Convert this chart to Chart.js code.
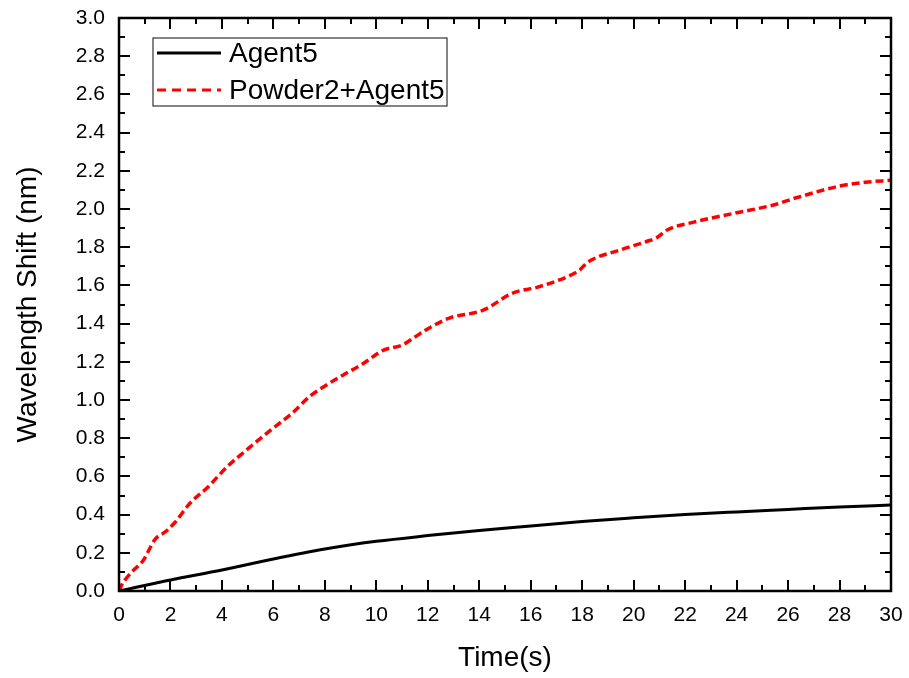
<!DOCTYPE html>
<html>
<head>
<meta charset="utf-8">
<script src="https://cdn.jsdelivr.net/npm/chart.js@4.4.0/dist/chart.umd.min.js"></script>
<style>
  html, body { margin: 0; padding: 0; background: #fff; }
  #wrap { width: 909px; height: 678px; }
</style>
</head>
<body>
<div id="wrap"><canvas id="shift-chart" width="909" height="678"></canvas></div>
<script>
// series
const seriesNames = ['Agent5', 'Powder2+Agent5'];

const agentTime = [0, 2, 4, 6, 8, 10, 12, 14, 16, 18, 20, 22, 24, 26, 28, 30];
const agentShift = [0, 0.058, 0.11, 0.168, 0.22, 0.26, 0.29, 0.317, 0.34, 0.364, 0.383, 0.40, 0.414, 0.427, 0.44, 0.45];

const powderTime = [0, 0.1, 0.23, 0.5, 0.94, 1.4, 1.8, 2.18, 2.76, 3.46, 4.2, 4.97, 5.87, 6.72, 7.42, 8.08, 8.7, 9.48,
  10.26, 11.04, 11.5, 12.09, 12.86, 14.15, 15.3, 16.24, 17.5, 17.9, 18.2, 19.47, 20.5, 20.9, 21.3, 22.3, 24.0, 25.4,
  26.35, 28.0, 29.0, 30];
const powderShift = [0, 0.03, 0.057, 0.1, 0.16, 0.27, 0.31, 0.36, 0.46, 0.545, 0.65, 0.74, 0.84, 0.93, 1.02, 1.08, 1.13, 1.19,
  1.26, 1.29, 1.33, 1.38, 1.43, 1.47, 1.56, 1.59, 1.65, 1.68, 1.72, 1.785, 1.83, 1.85, 1.89, 1.93, 1.98, 2.02,
  2.06, 2.12, 2.14, 2.15];

const xTicks = [0, 2, 4, 6, 8, 10, 12, 14, 16, 18, 20, 22, 24, 26, 28, 30];
const yTicks = [0, 0.2, 0.4, 0.6, 0.8, 1.0, 1.2, 1.4, 1.6, 1.8, 2.0, 2.2, 2.4, 2.6, 2.8, 3.0];

const FONT = '"Liberation Sans", Arial, sans-serif';

function toPoints(xs, ys) {
  return xs.map((x, i) => ({ x: x, y: ys[i] }));
}

// inward ticks on all four sides, frame and boxed legend
const frameTicks = {
  id: 'frameTicks',
  afterDraw(chart) {
    const ctx = chart.ctx;
    const a = chart.chartArea;
    const xs = chart.scales.x, ys = chart.scales.y;
    ctx.save();
    ctx.strokeStyle = '#000';
    ctx.lineWidth = 2;
    for (let v = 0; v <= 30; v += 1) {
      const px = Math.round(xs.getPixelForValue(v));
      const len = v % 2 === 0 ? 11 : 6;
      ctx.beginPath();
      ctx.moveTo(px, a.bottom); ctx.lineTo(px, a.bottom - len);
      ctx.moveTo(px, a.top); ctx.lineTo(px, a.top + len);
      ctx.stroke();
    }
    for (let i = 0; i <= 30; i++) {
      const py = Math.round(ys.getPixelForValue(i / 10));
      const len = i % 2 === 0 ? 11 : 6;
      ctx.beginPath();
      ctx.moveTo(a.left, py); ctx.lineTo(a.left + len, py);
      ctx.moveTo(a.right, py); ctx.lineTo(a.right - len, py);
      ctx.stroke();
    }
    ctx.lineWidth = 2.5;
    ctx.strokeRect(a.left, a.top, a.right - a.left, a.bottom - a.top);

    // legend box
    const bx = 153, by = 38, bw = 294, bh = 68;
    ctx.lineWidth = 1.2;
    ctx.strokeStyle = '#333';
    ctx.strokeRect(bx, by, bw, bh);
    const rows = [
      { color: '#000', dash: [], y: by + 15 },
      { color: '#ff0000', dash: [9, 6], y: by + 52 }
    ];
    ctx.font = '28px ' + FONT;
    ctx.textBaseline = 'middle';
    rows.forEach((r, i) => {
      ctx.beginPath();
      ctx.setLineDash(r.dash);
      ctx.strokeStyle = r.color;
      ctx.lineWidth = 3;
      ctx.moveTo(bx + 4, r.y); ctx.lineTo(bx + 68, r.y);
      ctx.stroke();
      ctx.setLineDash([]);
      ctx.fillStyle = '#000';
      ctx.fillText(seriesNames[i], bx + 76, r.y + 1);
    });
    ctx.restore();
  }
};

const canvas = document.querySelector('#shift-chart');
const shiftChart = new Chart(canvas, {
  type: 'line',
  data: {
    datasets: [{
      label: seriesNames[0],
      data: toPoints(agentTime, agentShift),
      borderColor: '#000',
      borderWidth: 3,
      pointRadius: 0,
      cubicInterpolationMode: 'monotone',
      fill: false
    }, {
      label: seriesNames[1],
      data: toPoints(powderTime, powderShift),
      borderColor: '#ff0000',
      borderWidth: 3.5,
      borderDash: [8, 4],
      pointRadius: 0,
      cubicInterpolationMode: 'monotone',
      fill: false
    }]
  },
  options: {
    responsive: false,
    animation: false,
    layout: { padding: { left: 0, top: 18, right: 18, bottom: 0 } },
    plugins: {
      legend: { display: false },
      tooltip: { enabled: false }
    },
    scales: {
      x: {
        type: 'linear',
        min: 0,
        max: 30,
        afterBuildTicks(scale) { scale.ticks = xTicks.map(v => ({ value: v })); },
        afterFit(scale) {
          scale.height = 87;
          scale.paddingLeft = 0;
          scale.paddingRight = 0;
        },
        grid: { display: false, drawTicks: false },
        border: { display: false },
        ticks: {
          color: '#000',
          padding: 12,
          maxRotation: 0,
          font: { family: FONT, size: 21 },
          callback: v => String(v)
        },
        title: {
          display: true,
          text: 'Time(s)',
          color: '#000',
          font: { family: FONT, size: 28 },
          padding: { top: 0, bottom: 3 }
        }
      },
      y: {
        type: 'linear',
        min: 0,
        max: 3,
        afterBuildTicks(scale) { scale.ticks = yTicks.map(v => ({ value: v })); },
        afterFit(scale) {
          scale.width = 119;
          scale.paddingTop = 0;
          scale.paddingBottom = 0;
        },
        grid: { display: false, drawTicks: false },
        border: { display: false },
        ticks: {
          color: '#000',
          padding: 14,
          font: { family: FONT, size: 21 },
          callback: v => v.toFixed(1)
        },
        title: {
          display: true,
          text: 'Wavelength Shift (nm)',
          color: '#000',
          font: { family: FONT, size: 28 },
          padding: { top: 11, bottom: 0 }
        }
      }
    }
  },
  plugins: [frameTicks]
});
</script>
</body>
</html>
